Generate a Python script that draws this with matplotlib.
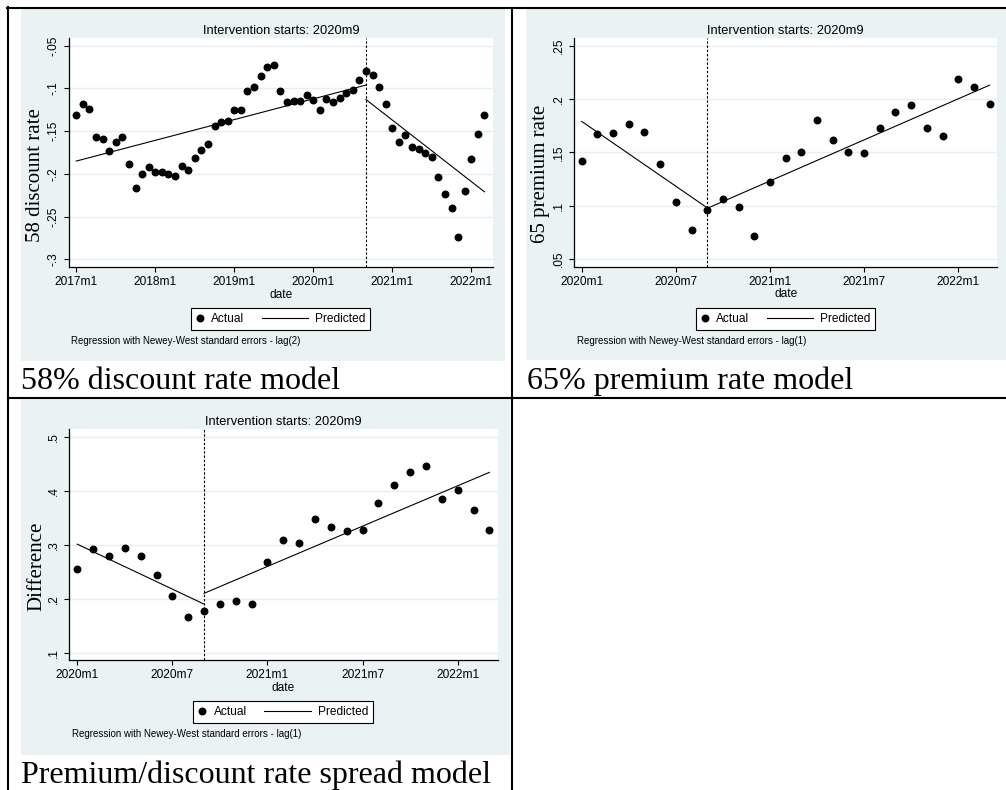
import numpy as np
import matplotlib.pyplot as plt
from matplotlib.lines import Line2D
from matplotlib.patches import Rectangle
from matplotlib.legend_handler import HandlerLine2D

W, H = 1006, 790
BG = '#eaf2f3'
GRID = '#e6eef0'
SANS = 'Liberation Sans'
SERIF = 'Liberation Serif'

# ---- data ----
intervention = '2020m9'
title = 'Intervention starts: 2020m9'

# 58% discount rate, monthly from 2017m1
disc_start = '2017m1'
disc_vals = [-0.131, -0.118, -0.124, -0.157, -0.159, -0.173, -0.163, -0.157, -0.189, -0.216,
             -0.200, -0.192, -0.198, -0.198, -0.200, -0.202, -0.191, -0.195, -0.181, -0.172,
             -0.165, -0.144, -0.139, -0.138, -0.125, -0.125, -0.103, -0.098, -0.086, -0.075,
             -0.072, -0.103, -0.116, -0.115, -0.115, -0.108, -0.113, -0.125, -0.112, -0.116,
             -0.111, -0.105, -0.102, -0.090, -0.080, -0.084, -0.098, -0.118, -0.146, -0.163,
             -0.155, -0.169, -0.171, -0.176, -0.180, -0.204, -0.223, -0.240, -0.274, -0.220,
             -0.182, -0.153, -0.131]
disc_pred_pre = [-0.185, -0.096]    # 2017m1 -> 2020m9
disc_pred_post = [-0.113, -0.221]   # 2020m9 -> 2022m3
disc_xticks = ['2017m1', '2018m1', '2019m1', '2020m1', '2021m1', '2022m1']
disc_yticks = [-0.3, -0.25, -0.2, -0.15, -0.1, -0.05]
disc_ylabels = ['-.3', '-.25', '-.2', '-.15', '-.1', '-.05']

# 65% premium rate, monthly from 2020m1
prem_start = '2020m1'
prem_vals = [0.142, 0.167, 0.168, 0.177, 0.169, 0.139, 0.103, 0.077, 0.096, 0.106,
             0.099, 0.072, 0.122, 0.145, 0.150, 0.180, 0.162, 0.150, 0.149, 0.173,
             0.188, 0.194, 0.173, 0.165, 0.219, 0.211, 0.195]
prem_pred_pre = [0.179, 0.098]
prem_pred_post = [0.0975, 0.213]
prem_xticks = ['2020m1', '2020m7', '2021m1', '2021m7', '2022m1']
prem_yticks = [0.05, 0.1, 0.15, 0.2, 0.25]
prem_ylabels = ['.05', '.1', '.15', '.2', '.25']

# premium/discount spread, monthly from 2020m1
spread_start = '2020m1'
spread_vals = [0.255, 0.292, 0.280, 0.293, 0.280, 0.244, 0.205, 0.167, 0.177, 0.190,
               0.196, 0.190, 0.268, 0.308, 0.304, 0.348, 0.333, 0.326, 0.328, 0.377,
               0.410, 0.435, 0.446, 0.385, 0.401, 0.364, 0.327]
spread_pred_pre = [0.301, 0.190]
spread_pred_post = [0.210, 0.434]
spread_xticks = ['2020m1', '2020m7', '2021m1', '2021m7', '2022m1']
spread_yticks = [0.1, 0.2, 0.3, 0.4, 0.5]
spread_ylabels = ['.1', '.2', '.3', '.4', '.5']


def month_idx(label, start):
    y, m = map(int, label.split('m'))
    y0, m0 = map(int, start.split('m'))
    return (y - y0) * 12 + (m - m0)


def fx(x):
    return x / W


def fy(y):
    return 1 - y / H


class ExtendedLine(HandlerLine2D):
    # legend key line that reaches further left than the handle box (Stata-style key)
    def get_xdata(self, legend, xdescent, ydescent, width, height, fontsize):
        ext = 3.2 * fontsize
        return [-xdescent - ext, -xdescent + width], [-xdescent + width]


fig = plt.figure(figsize=(W / 100, H / 100), dpi=100)
fig.patch.set_facecolor('white')


def panel(box, start, vals, pre, post, xticks, yticks, ylabels, xlim, ylim,
          ylabel, ylabel_c, legend_c, note, note_xy):
    l, t, r, b = box
    ax = fig.add_axes([fx(l), fy(b), (r - l) / W, (b - t) / H])
    ax.set_facecolor('white')
    x = np.arange(len(vals))
    iv = month_idx(intervention, start)
    ax.axvline(iv, color='black', lw=0.8, ls=(0, (2.2, 1.6)), zorder=2)
    pts, = ax.plot(x, vals, 'o', color='black', ms=4.7, ls='none', zorder=3)
    pred, = ax.plot([0, iv], pre, color='black', lw=0.8, zorder=3)
    ax.plot([iv, x[-1]], post, color='black', lw=0.8, zorder=3)

    ax.set_xlim(*xlim)
    ax.set_ylim(*ylim)
    ax.set_xticks([month_idx(s, start) for s in xticks])
    ax.set_xticklabels(xticks)
    ax.set_yticks(yticks)
    ax.set_yticklabels(ylabels, rotation=90, va='center')
    ax.tick_params(direction='out', length=3.6, width=0.8, pad=2.9, labelsize=8.6,
                   colors='black')
    for lab in ax.get_xticklabels() + ax.get_yticklabels():
        lab.set_family(SANS)
    ax.grid(axis='y', color=GRID, lw=1.0)
    ax.set_axisbelow(True)
    for s in ['top', 'right']:
        ax.spines[s].set_visible(False)
    for s in ['left', 'bottom']:
        ax.spines[s].set_linewidth(0.9)
        ax.spines[s].set_color('black')

    ax.set_title(title, family=SANS, fontsize=9.3, pad=3.4)
    ax.set_xlabel('date', family=SANS, fontsize=8.6, labelpad=0.5)
    ax.set_ylabel(ylabel, family=SERIF, fontsize=15)
    ax.yaxis.label.set_va('center')
    ax.yaxis.set_label_coords((ylabel_c[0] - l) / (r - l), (b - ylabel_c[1]) / (b - t))

    leg = ax.legend([pts, pred], ['Actual', 'Predicted'], loc='center',
                    bbox_to_anchor=(fx(legend_c[0]), fy(legend_c[1])),
                    bbox_transform=fig.transFigure, ncol=2, fancybox=False,
                    framealpha=1, edgecolor='black', handlelength=0.67,
                    handletextpad=0.59, columnspacing=4.69, borderpad=0.42,
                    prop={'family': SANS, 'size': 8.6},
                    handler_map={pred: ExtendedLine()})
    leg.get_frame().set_linewidth(0.8)
    fig.text(fx(note_xy[0]), fy(note_xy[1]), note, family=SANS, fontsize=7.0,
             va='center', ha='left')
    return ax


# Stata graph backgrounds
for (x0, y0, x1, y1) in [(21, 9, 505, 360.7), (526, 9, 1006, 360), (21, 399, 510, 755)]:
    fig.add_artist(Rectangle((fx(x0), fy(y1)), (x1 - x0) / W, (y1 - y0) / H,
                             transform=fig.transFigure, facecolor=BG, edgecolor='none',
                             zorder=-1))

panel((69, 38.3, 492.7, 267), disc_start, disc_vals, disc_pred_pre, disc_pred_post,
      disc_xticks, disc_yticks, disc_ylabels, (-1.11, 63.25), (-0.309, -0.0413),
      '58 discount rate', (36, 175), (280.5, 318.7),
      'Regression with Newey-West standard errors - lag(2)', (70.7, 340.7))

panel((574, 38.3, 997.3, 266.7), prem_start, prem_vals, prem_pred_pre, prem_pred_post,
      prem_xticks, prem_yticks, prem_ylabels, (-0.49, 26.49), (0.0428, 0.2569),
      '65 premium rate', (541, 174), (785.5, 318.7),
      'Regression with Newey-West standard errors - lag(1)', (576.7, 340.7))

panel((69, 429.3, 497.7, 660), spread_start, spread_vals, spread_pred_pre, spread_pred_post,
      spread_xticks, spread_yticks, spread_ylabels, (-0.52, 26.52), (0.0865, 0.5137),
      'Difference', (37, 566.7), (283.3, 712),
      'Regression with Newey-West standard errors - lag(1)', (71.7, 734))

# captions under each graph
fig.text(fx(21), fy(389.3), '58% discount rate model', family=SERIF, fontsize=23,
         va='baseline')
fig.text(fx(526.7), fy(389.3), '65% premium rate model', family=SERIF, fontsize=23,
         va='baseline')
fig.text(fx(21), fy(783.3), 'Premium/discount rate spread model', family=SERIF,
         fontsize=23, va='baseline')

# table borders
for (x0, y0, x1, y1) in [(7, 8, 1006, 8), (8, 7, 8, 790), (512, 8, 512, 790),
                         (8, 398, 1006, 398)]:
    fig.add_artist(Line2D([fx(x0), fx(x1)], [fy(y0), fy(y1)], transform=fig.transFigure,
                          color='black', lw=1.5, zorder=5))

fig.savefig('out.png', dpi=100)
